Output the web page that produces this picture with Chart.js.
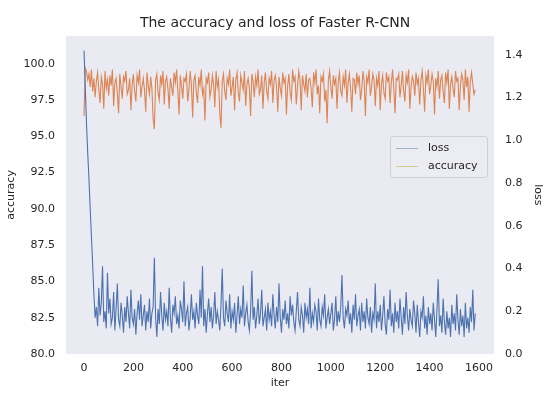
<!DOCTYPE html>
<html>
<head>
<meta charset="utf-8">
<script src="https://cdn.jsdelivr.net/npm/chart.js@4"></script>
<style>
    body { margin: 0; background: #ffffff; }
    #wrap { position: relative; width: 550px; height: 394px; }
    #legend {
        position: absolute; left: 390px; top: 136px; width: 96px; height: 40px;
        border: 1px solid #cfcfd6; border-radius: 3px; background: rgba(236, 236, 243, 0.9);
        font-family: "DejaVu Sans", sans-serif; font-size: 11px; color: #262626;
    }
    .item { position: absolute; left: 5px; height: 14px; line-height: 14px; }
    .item span.swatch { position: absolute; left: 0; top: 7px; width: 22px; height: 1px; }
    .item span.label { position: absolute; left: 32px; top: 0; white-space: nowrap; }
</style>
</head>
<body>
<div id="wrap">
    <canvas id="chart" width="550" height="394"></canvas>
    <div id="legend">
        <div class="item" style="top:4px"><span class="swatch" style="background:#a3aed3"></span><span class="label">loss</span></div>
        <div class="item" style="top:22px"><span class="swatch" style="background:#d9c98e"></span><span class="label">accuracy</span></div>
    </div>
</div>
<script>
const iterStep = 5;
const xTicks = [0, 200, 400, 600, 800, 1000, 1200, 1400, 1600];
const accTicks = [80.0, 82.5, 85.0, 87.5, 90.0, 92.5, 95.0, 97.5, 100.0];
const lossTicks = [0.0, 0.2, 0.4, 0.6, 0.8, 1.0, 1.2, 1.4];

// one value every 5 iterations
const loss = [
    1.42, 1.25, 1.08, 0.94, 0.82, 0.68, 0.55, 0.42, 0.28, 0.17,
    0.22, 0.13, 0.31, 0.18, 0.24, 0.41, 0.15, 0.20, 0.12, 0.38,
    0.19, 0.26, 0.14, 0.17, 0.29, 0.11, 0.21, 0.33, 0.16, 0.13,
    0.24, 0.18, 0.10, 0.22, 0.15, 0.27, 0.19, 0.12, 0.30, 0.17,
    0.14, 0.21, 0.09, 0.19, 0.25, 0.16, 0.28, 0.13, 0.18, 0.23,
    0.11, 0.20, 0.15, 0.26, 0.12, 0.19, 0.22, 0.45, 0.17, 0.08,
    0.21, 0.14, 0.29, 0.18, 0.11, 0.24, 0.16, 0.20, 0.13, 0.31,
    0.17, 0.10, 0.23, 0.19, 0.27, 0.14, 0.18, 0.12, 0.25, 0.21,
    0.15, 0.34, 0.13, 0.19, 0.22, 0.11, 0.17, 0.28, 0.16, 0.20,
    0.12, 0.24, 0.18, 0.14, 0.30, 0.17, 0.41, 0.13, 0.21, 0.10,
    0.19, 0.26, 0.15, 0.22, 0.12, 0.18, 0.29, 0.14, 0.20, 0.16,
    0.11, 0.23, 0.40, 0.17, 0.13, 0.25, 0.19, 0.15, 0.28, 0.12,
    0.20, 0.16, 0.24, 0.10, 0.18, 0.27, 0.14, 0.21, 0.17, 0.32,
    0.13, 0.19, 0.23, 0.15, 0.11, 0.20, 0.39, 0.16, 0.22, 0.12,
    0.18, 0.26, 0.14, 0.19, 0.30, 0.13, 0.17, 0.21, 0.11, 0.24,
    0.16, 0.20, 0.13, 0.28, 0.18, 0.12, 0.22, 0.15, 0.33, 0.17,
    0.10, 0.21, 0.16, 0.25, 0.14, 0.19, 0.12, 0.27, 0.18, 0.23,
    0.15, 0.11, 0.20, 0.29, 0.16, 0.13, 0.22, 0.18, 0.10, 0.24,
    0.17, 0.21, 0.14, 0.31, 0.12, 0.19, 0.15, 0.23, 0.20, 0.11,
    0.26, 0.16, 0.13, 0.22, 0.18, 0.28, 0.12, 0.17, 0.21, 0.14,
    0.19, 0.24, 0.11, 0.16, 0.27, 0.13, 0.20, 0.15, 0.22, 0.37,
    0.17, 0.12, 0.21, 0.18, 0.25, 0.14, 0.19, 0.10, 0.23, 0.16,
    0.28, 0.13, 0.18, 0.21, 0.11, 0.24, 0.15, 0.20, 0.12, 0.26,
    0.17, 0.14, 0.22, 0.10, 0.19, 0.16, 0.33, 0.12, 0.20, 0.15,
    0.23, 0.11, 0.18, 0.27, 0.14, 0.09, 0.21, 0.16, 0.30, 0.13,
    0.19, 0.10, 0.24, 0.15, 0.20, 0.12, 0.26, 0.17, 0.09, 0.22,
    0.14, 0.29, 0.18, 0.11, 0.21, 0.16, 0.13, 0.25, 0.19, 0.10,
    0.23, 0.15, 0.08, 0.20, 0.17, 0.27, 0.12, 0.18, 0.09, 0.22,
    0.14, 0.19, 0.11, 0.24, 0.16, 0.08, 0.21, 0.35, 0.13, 0.18,
    0.10, 0.26, 0.15, 0.09, 0.20, 0.12, 0.17, 0.08, 0.23, 0.14,
    0.19, 0.11, 0.28, 0.16, 0.09, 0.21, 0.13, 0.18, 0.08, 0.24,
    0.12, 0.17, 0.10, 0.22, 0.15, 0.30, 0.11, 0.19
];

const accuracy = [
    96.4, 99.7, 99.5, 98.9, 99.3, 98.4, 99.6, 98.1, 99.0, 97.7,
    98.8, 99.4, 98.2, 97.3, 99.1, 98.6, 96.9, 99.5, 98.3, 98.9,
    97.8, 99.2, 98.5, 99.6, 97.1, 98.7, 99.0, 98.0, 96.6, 99.3,
    98.4, 97.6, 99.1, 98.8, 99.5, 97.9, 98.2, 99.0, 96.8, 98.6,
    99.3, 98.1, 97.4, 99.2, 98.7, 99.6, 97.7, 98.4, 99.0, 98.2,
    96.7, 99.4, 98.5, 97.9, 99.1, 98.3, 96.2, 95.5, 98.9, 99.3,
    98.0, 97.5, 99.2, 98.6, 99.5, 97.2, 98.8, 99.1, 98.3, 96.9,
    99.0, 98.4, 97.8, 99.4, 98.7, 99.6, 98.1, 96.5, 99.2, 98.5,
    97.6, 99.0, 98.8, 99.3, 97.4, 98.2, 99.5, 98.6, 96.3, 98.9,
    99.2, 98.0, 97.3, 99.1, 98.5, 99.6, 97.9, 98.3, 96.1, 99.0,
    98.7, 99.4, 97.7, 98.2, 99.2, 98.6, 97.0, 99.5, 98.4, 98.9,
    96.6, 95.6, 98.8, 99.3, 98.1, 97.5, 99.0, 98.6, 99.6, 97.8,
    98.4, 99.1, 96.8, 98.9, 99.4, 98.0, 97.4, 99.2, 98.7, 98.2,
    99.5, 97.1, 98.6, 99.0, 98.3, 96.4, 99.3, 98.8, 97.7, 99.1,
    98.5, 99.6, 97.9, 98.2, 99.2, 96.9, 98.7, 99.4, 98.1, 97.6,
    99.0, 98.6, 99.5, 97.3, 98.9, 99.2, 98.4, 96.7, 99.1, 98.3,
    97.8, 99.4, 98.7, 99.0, 96.5, 98.5, 99.3, 98.0, 97.5, 99.6,
    98.8, 99.1, 97.2, 98.4, 99.5, 98.9, 96.8, 99.2, 98.6, 98.1,
    99.3, 97.7, 98.9, 99.0, 98.3, 97.0, 99.4, 98.7, 99.6, 97.9,
    98.5, 96.6, 99.1, 98.8, 99.3, 97.4, 98.2, 95.9, 98.9, 99.5,
    98.4, 97.6, 99.2, 98.6, 99.0, 96.9, 98.8, 99.4, 98.1, 97.8,
    99.1, 98.5, 99.6, 97.3, 98.7, 99.3, 98.3, 96.7, 99.0, 98.9,
    97.9, 99.4, 98.6, 99.2, 97.5, 98.2, 99.5, 98.8, 96.4, 99.1,
    98.7, 99.6, 97.8, 98.4, 99.3, 98.9, 97.1, 99.0, 98.5, 99.5,
    96.8, 98.6, 99.2, 98.0, 97.6, 99.4, 98.8, 99.1, 97.3, 98.7,
    99.6, 98.3, 96.6, 99.0, 98.9, 99.3, 97.7, 98.5, 99.5, 98.1,
    97.4, 99.2, 98.7, 99.6, 96.9, 98.4, 99.1, 98.8, 97.8, 99.4,
    98.6, 99.0, 97.2, 98.9, 99.5, 98.3, 96.7, 99.2, 98.7, 99.6,
    97.9, 98.5, 99.3, 98.8, 96.5, 99.0, 98.4, 99.5, 97.6, 98.9,
    99.2, 98.1, 97.3, 99.4, 98.7, 99.6, 96.9, 98.6, 99.1, 98.3,
    97.7, 99.5, 98.8, 99.0, 96.8, 98.5, 99.3, 98.9, 97.5, 99.6,
    98.4, 99.1, 96.7, 98.8, 99.4, 98.6, 97.9, 98.2
];

const FONT = "'DejaVu Sans', sans-serif";
const TEXT = "#262626";

const plotBg = {
    id: "plotBg",
    beforeDraw(chart) {
        const { ctx, chartArea: a } = chart;
        ctx.save();
        ctx.fillStyle = "#eaeaf2";
        ctx.fillRect(a.left, a.top, a.right - a.left, a.bottom - a.top);
        ctx.restore();
    }
};

const lossPts = loss.map((v, i) => ({ x: i * iterStep, y: v }));
const accPts = accuracy.map((v, i) => ({ x: i * iterStep, y: v }));

const onlyTicks = list => (axis => {
    axis.ticks = list.map(v => ({ value: v }));
});

new Chart(document.getElementById("chart").getContext("2d"), {
    type: "line",
    data: {
        datasets: [
            { label: "loss", data: lossPts, yAxisID: "y1", borderColor: "#4c72b0", borderWidth: 1.1, pointRadius: 0, tension: 0 },
            { label: "accuracy", data: accPts, yAxisID: "y", borderColor: "#dd8452", borderWidth: 1.1, pointRadius: 0, tension: 0 }
        ]
    },
    options: {
        responsive: false,
        animation: false,
        devicePixelRatio: 1,
        layout: { padding: 0 },
        plugins: {
            legend: { display: false },
            tooltip: { enabled: false },
            title: {
                display: true,
                text: "The accuracy and loss of Faster R-CNN",
                color: TEXT,
                font: { family: FONT, size: 14, weight: "normal" },
                padding: { top: 15, bottom: 4 }
            }
        },
        scales: {
            x: {
                type: "linear", position: "bottom", min: -73, max: 1661,
                afterBuildTicks: onlyTicks(xTicks),
                afterFit: s => { s.height = 40; },
                grid: { display: false, drawTicks: false },
                border: { display: false },
                ticks: { color: TEXT, font: { family: FONT, size: 11 }, padding: 8, maxRotation: 0, callback: v => String(v) },
                title: { display: true, text: "iter", color: TEXT, font: { family: FONT, size: 11 }, padding: { top: 0, bottom: 4 } }
            },
            y: {
                type: "linear", position: "left", min: 80, max: 101.93,
                afterBuildTicks: onlyTicks(accTicks),
                afterFit: s => { s.width = 66; },
                grid: { display: false, drawTicks: false },
                border: { display: false },
                ticks: { color: TEXT, font: { family: FONT, size: 11 }, padding: 11, callback: v => v.toFixed(1) },
                title: { display: true, text: "accuracy", color: TEXT, font: { family: FONT, size: 11 }, padding: { top: 5, bottom: 0 } }
            },
            y1: {
                type: "linear", position: "right", min: 0, max: 1.489,
                afterBuildTicks: onlyTicks(lossTicks),
                afterFit: s => { s.width = 56; },
                grid: { display: false, drawTicks: false },
                border: { display: false },
                ticks: { color: TEXT, font: { family: FONT, size: 11 }, padding: 11, callback: v => v.toFixed(1) },
                title: { display: true, text: "loss", color: TEXT, font: { family: FONT, size: 11 }, padding: { top: 6, bottom: 0 } }
            }
        }
    },
    plugins: [plotBg]
});
</script>
</body>
</html>
